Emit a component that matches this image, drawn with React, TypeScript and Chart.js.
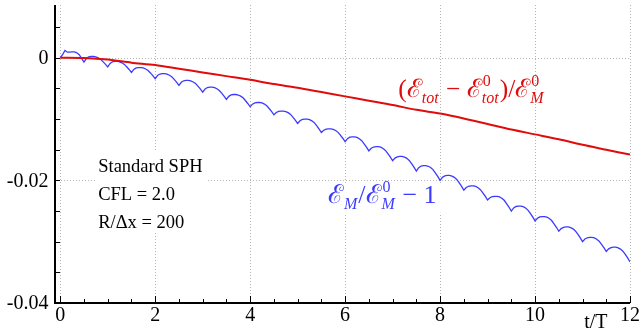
import React, { useEffect, useRef } from "react";
import { Chart, registerables } from "chart.js";

Chart.register(...registerables);

// Magnetic energy deviation, sampled every T_STEP periods from t/T = 0 to 12
const T_STEP = 0.05;
const magneticEnergy = [
  0, 0.0005, 0.0012, 0.0009, 0.0009, 0.00095, 0.00095, 0.0008, 0.0005, -0.0001,
  -0.0007, -0.00014, 0.00013, 0.0002, 0.0002, 0.00013, -0.00002, -0.00026, -0.00063, -0.00104,
  -0.0015, -0.00094, -0.00067, -0.0006, -0.0006, -0.00067, -0.00083, -0.00109, -0.00148, -0.00191,
  -0.0024, -0.0019, -0.00166, -0.0016, -0.0016, -0.00167, -0.00183, -0.00209, -0.00248, -0.00291,
  -0.0034, -0.0029, -0.00266, -0.0026, -0.0026, -0.00268, -0.00285, -0.00311, -0.00353, -0.00399,
  -0.0045, -0.004, -0.00376, -0.0037, -0.0037, -0.00378, -0.00395, -0.00421, -0.00463, -0.00509,
  -0.0056, -0.0051, -0.00486, -0.0048, -0.0048, -0.00488, -0.00506, -0.00534, -0.00578, -0.00626,
  -0.0068, -0.0063, -0.00606, -0.006, -0.006, -0.00608, -0.00626, -0.00654, -0.00698, -0.00746,
  -0.008, -0.00757, -0.00736, -0.0073, -0.0073, -0.00738, -0.00756, -0.00784, -0.00828, -0.00876,
  -0.0093, -0.00893, -0.00875, -0.0087, -0.0087, -0.00878, -0.00896, -0.00924, -0.00968, -0.01016,
  -0.0107, -0.01027, -0.01006, -0.01, -0.01, -0.01009, -0.01029, -0.01059, -0.01108, -0.01161,
  -0.0122, -0.01183, -0.01165, -0.0116, -0.0116, -0.01168, -0.01187, -0.01217, -0.01263, -0.01313,
  -0.0137, -0.0132, -0.01296, -0.0129, -0.0129, -0.01299, -0.0132, -0.01352, -0.01403, -0.01458,
  -0.0152, -0.01477, -0.01456, -0.0145, -0.0145, -0.01459, -0.0148, -0.01512, -0.01563, -0.01618,
  -0.0168, -0.01637, -0.01616, -0.0161, -0.0161, -0.0162, -0.01641, -0.01675, -0.01728, -0.01785,
  -0.0185, -0.01794, -0.01767, -0.0176, -0.0176, -0.0177, -0.01791, -0.01825, -0.01878, -0.01935,
  -0.02, -0.0195, -0.01926, -0.0192, -0.0192, -0.0193, -0.01951, -0.01985, -0.02038, -0.02095,
  -0.0216, -0.02117, -0.02096, -0.0209, -0.0209, -0.02099, -0.0212, -0.02152, -0.02203, -0.02258,
  -0.0232, -0.02283, -0.02265, -0.0226, -0.0226, -0.0227, -0.02291, -0.02325, -0.02378, -0.02435,
  -0.025, -0.0245, -0.02426, -0.0242, -0.0242, -0.0243, -0.02451, -0.02485, -0.02538, -0.02595,
  -0.0266, -0.02617, -0.02596, -0.0259, -0.0259, -0.026, -0.02621, -0.02655, -0.02708, -0.02765,
  -0.0283, -0.02787, -0.02766, -0.0276, -0.0276, -0.0277, -0.02791, -0.02825, -0.02878, -0.02935,
  -0.03, -0.02957, -0.02936, -0.0293, -0.0293, -0.02939, -0.0296, -0.02992, -0.03043, -0.03098,
  -0.0316, -0.03117, -0.03096, -0.0309, -0.0309, -0.031, -0.03121, -0.03155, -0.03208, -0.03265,
  -0.0333,
];

// Total energy deviation
const totalTime = [
  0, 0.5, 1, 1.5, 2, 2.5, 3, 3.5, 4, 4.5, 5, 5.5, 6, 6.5, 7, 7.5, 8, 8.5, 9, 9.5, 10, 10.5, 11, 11.5, 12,
];
const totalEnergy = [
  0, -0.00005, -0.0003, -0.0008, -0.0012, -0.0018, -0.0024, -0.003, -0.0036, -0.0043, -0.0049,
  -0.0056, -0.0063, -0.007, -0.0077, -0.0085, -0.0091, -0.0099, -0.0108, -0.0117, -0.0125,
  -0.0133, -0.0142, -0.015, -0.0158,
];

const X_MAJOR = [0, 2, 4, 6, 8, 10, 12];
const X_TICK_LABELS = ["0", "2", "4", "6", "8", "10", "12"];
const Y_MAJOR = [0, -0.02, -0.04];
const Y_TICK_LABELS = ["0", "-0.02", "-0.04"];
const Y_GRID = [0, -0.02];
const X_MINOR_STEP = 0.5;
const Y_MINOR_STEP = 0.005;
const X_MIN = -0.11;
const X_MAX = 12;
const Y_MIN = -0.04;
const Y_MAX = 0.0086;
const X_TITLE = "t/T";
const NOTES = ["Standard SPH", "CFL = 2.0", "R/\u0394x = 200"];

const RED = "#e00c0c";
const BLUE = "#3b3bff";
const SERIF = '"Liberation Serif", "Times New Roman", serif';
const MATH = '"Liberation Serif", "DejaVu Serif", serif';

type Piece = { b: string; sup?: string; sub?: string };

const TOTAL_LABEL: Piece[] = [
  { b: "(" },
  { b: "\u2130", sub: "tot" },
  { b: " \u2212 " },
  { b: "\u2130", sup: "0", sub: "tot" },
  { b: ")/" },
  { b: "\u2130", sup: "0", sub: "M" },
];
const MAGNETIC_LABEL: Piece[] = [
  { b: "\u2130", sub: "M" },
  { b: "/" },
  { b: "\u2130", sup: "0", sub: "M" },
  { b: " \u2212 1" },
];

function drawMath(ctx: CanvasRenderingContext2D, pieces: Piece[], x: number, y: number, color: string, size: number) {
  ctx.save();
  ctx.fillStyle = color;
  ctx.textAlign = "left";
  ctx.textBaseline = "alphabetic";
  let cx = x;
  const small = Math.round(size * 0.62);
  for (const p of pieces) {
    ctx.font = `${size}px ${MATH}`;
    ctx.fillText(p.b, cx, y);
    cx += ctx.measureText(p.b).width;
    let w = 0;
    if (p.sup) {
      ctx.font = `${small}px ${MATH}`;
      ctx.fillText(p.sup, cx + 1, y - size * 0.42);
      w = Math.max(w, ctx.measureText(p.sup).width);
    }
    if (p.sub) {
      ctx.font = `italic ${small}px ${MATH}`;
      ctx.fillText(p.sub, cx, y + size * 0.24);
      w = Math.max(w, ctx.measureText(p.sub).width);
    }
    if (w > 0) cx += w + 1;
  }
  ctx.restore();
}

const framePlugin = {
  id: "frame",
  beforeDatasetsDraw(chart: any) {
    const { ctx, chartArea: a } = chart;
    const xs = chart.scales.x;
    const ys = chart.scales.y;
    ctx.save();
    // dotted grid
    ctx.strokeStyle = "#b4b4b4";
    ctx.lineWidth = 1;
    ctx.setLineDash([1, 2]);
    for (const t of X_MAJOR) {
      const px = Math.round(xs.getPixelForValue(t)) + 0.5;
      ctx.beginPath();
      ctx.moveTo(px, a.top);
      ctx.lineTo(px, a.bottom);
      ctx.stroke();
    }
    for (const v of Y_GRID) {
      const py = Math.round(ys.getPixelForValue(v)) + 0.5;
      ctx.beginPath();
      ctx.moveTo(a.left, py);
      ctx.lineTo(a.right, py);
      ctx.stroke();
    }
    ctx.setLineDash([]);

    // simulation parameters block
    const nx = xs.getPixelForValue(0.8);
    const ny = ys.getPixelForValue(-0.0186);
    ctx.fillStyle = "#fff";
    ctx.fillRect(nx - 3, ny - 20, 112, 81);
    ctx.fillStyle = "#000";
    ctx.font = `18.5px ${SERIF}`;
    ctx.textAlign = "left";
    ctx.textBaseline = "alphabetic";
    NOTES.forEach((s, i) => ctx.fillText(s, nx, ny + i * 28));

    // curve labels
    const mx = xs.getPixelForValue(5.64);
    const my = ys.getPixelForValue(-0.02366);
    ctx.fillStyle = "#fff";
    ctx.fillRect(mx - 2, my - 20, 116, 30);
    drawMath(ctx, MAGNETIC_LABEL, mx, my, BLUE, 26);

    const tx = xs.getPixelForValue(7.12);
    const ty = ys.getPixelForValue(-0.00637);
    drawMath(ctx, TOTAL_LABEL, tx, ty, RED, 25.5);
    ctx.restore();
  },
  afterDatasetsDraw(chart: any) {
    const { ctx, chartArea: a } = chart;
    const xs = chart.scales.x;
    const ys = chart.scales.y;
    ctx.save();
    ctx.strokeStyle = "#000";
    ctx.lineWidth = 1;
    // ticks on the left axis
    for (let i = 1; i >= -8; i--) {
      const v = i * Y_MINOR_STEP;
      const py = Math.round(ys.getPixelForValue(v)) + 0.5;
      ctx.beginPath();
      ctx.moveTo(a.left, py);
      ctx.lineTo(a.left + 5, py);
      ctx.stroke();
    }
    // ticks on the bottom axis
    for (let i = 0; i * X_MINOR_STEP <= X_MAX; i++) {
      const t = i * X_MINOR_STEP;
      const px = Math.round(xs.getPixelForValue(t)) + 0.5;
      const len = X_MAJOR.includes(t) ? 7 : 4;
      ctx.beginPath();
      ctx.moveTo(px, a.bottom);
      ctx.lineTo(px, a.bottom - len);
      ctx.stroke();
    }
    // axis lines
    ctx.lineWidth = 2;
    ctx.beginPath();
    ctx.moveTo(a.left, a.top);
    ctx.lineTo(a.left, a.bottom + 1);
    ctx.moveTo(a.left - 1, a.bottom);
    ctx.lineTo(a.right, a.bottom);
    ctx.stroke();

    // tick labels
    ctx.fillStyle = "#000";
    ctx.font = `20px ${SERIF}`;
    ctx.textAlign = "right";
    ctx.textBaseline = "middle";
    Y_MAJOR.forEach((v, i) => {
      ctx.fillText(Y_TICK_LABELS[i], a.left - 6.5, ys.getPixelForValue(v) + 1);
    });
    ctx.textAlign = "center";
    ctx.textBaseline = "alphabetic";
    X_MAJOR.forEach((t, i) => {
      ctx.fillText(X_TICK_LABELS[i], xs.getPixelForValue(t), a.bottom + 18);
    });
    ctx.fillText(X_TITLE, xs.getPixelForValue(11.28), a.bottom + 24.5);
    ctx.restore();
  },
};

export default function App() {
  const canvasRef = useRef<HTMLCanvasElement | null>(null);

  useEffect(() => {
    const canvas = canvasRef.current;
    if (!canvas) return;
    const magneticPoints = magneticEnergy.map((v, i) => ({ x: i * T_STEP, y: v }));
    const totalPoints = totalEnergy.map((v, i) => ({ x: totalTime[i], y: v }));
    const chart = new Chart(canvas, {
      type: "line",
      data: {
        datasets: [
          {
            data: totalPoints,
            borderColor: RED,
            borderWidth: 2,
            pointRadius: 0,
            tension: 0.3,
            fill: false,
          },
          {
            data: magneticPoints,
            borderColor: BLUE,
            borderWidth: 1.3,
            pointRadius: 0,
            tension: 0,
            fill: false,
          },
        ],
      },
      options: {
        responsive: false,
        animation: false,
        devicePixelRatio: 1,
        layout: { padding: { left: 55, right: 11, top: 5, bottom: 33 } },
        scales: {
          x: { type: "linear", min: X_MIN, max: X_MAX, display: false },
          y: { type: "linear", min: Y_MIN, max: Y_MAX, display: false },
        },
        plugins: { legend: { display: false }, tooltip: { enabled: false } },
        events: [],
      },
      plugins: [framePlugin],
    });
    return () => chart.destroy();
  }, []);

  return (
    <div style={{ position: "fixed", left: 0, top: 0, width: 641, height: 336, background: "#fff" }}>
      <canvas ref={canvasRef} width={641} height={336} />
    </div>
  );
}
